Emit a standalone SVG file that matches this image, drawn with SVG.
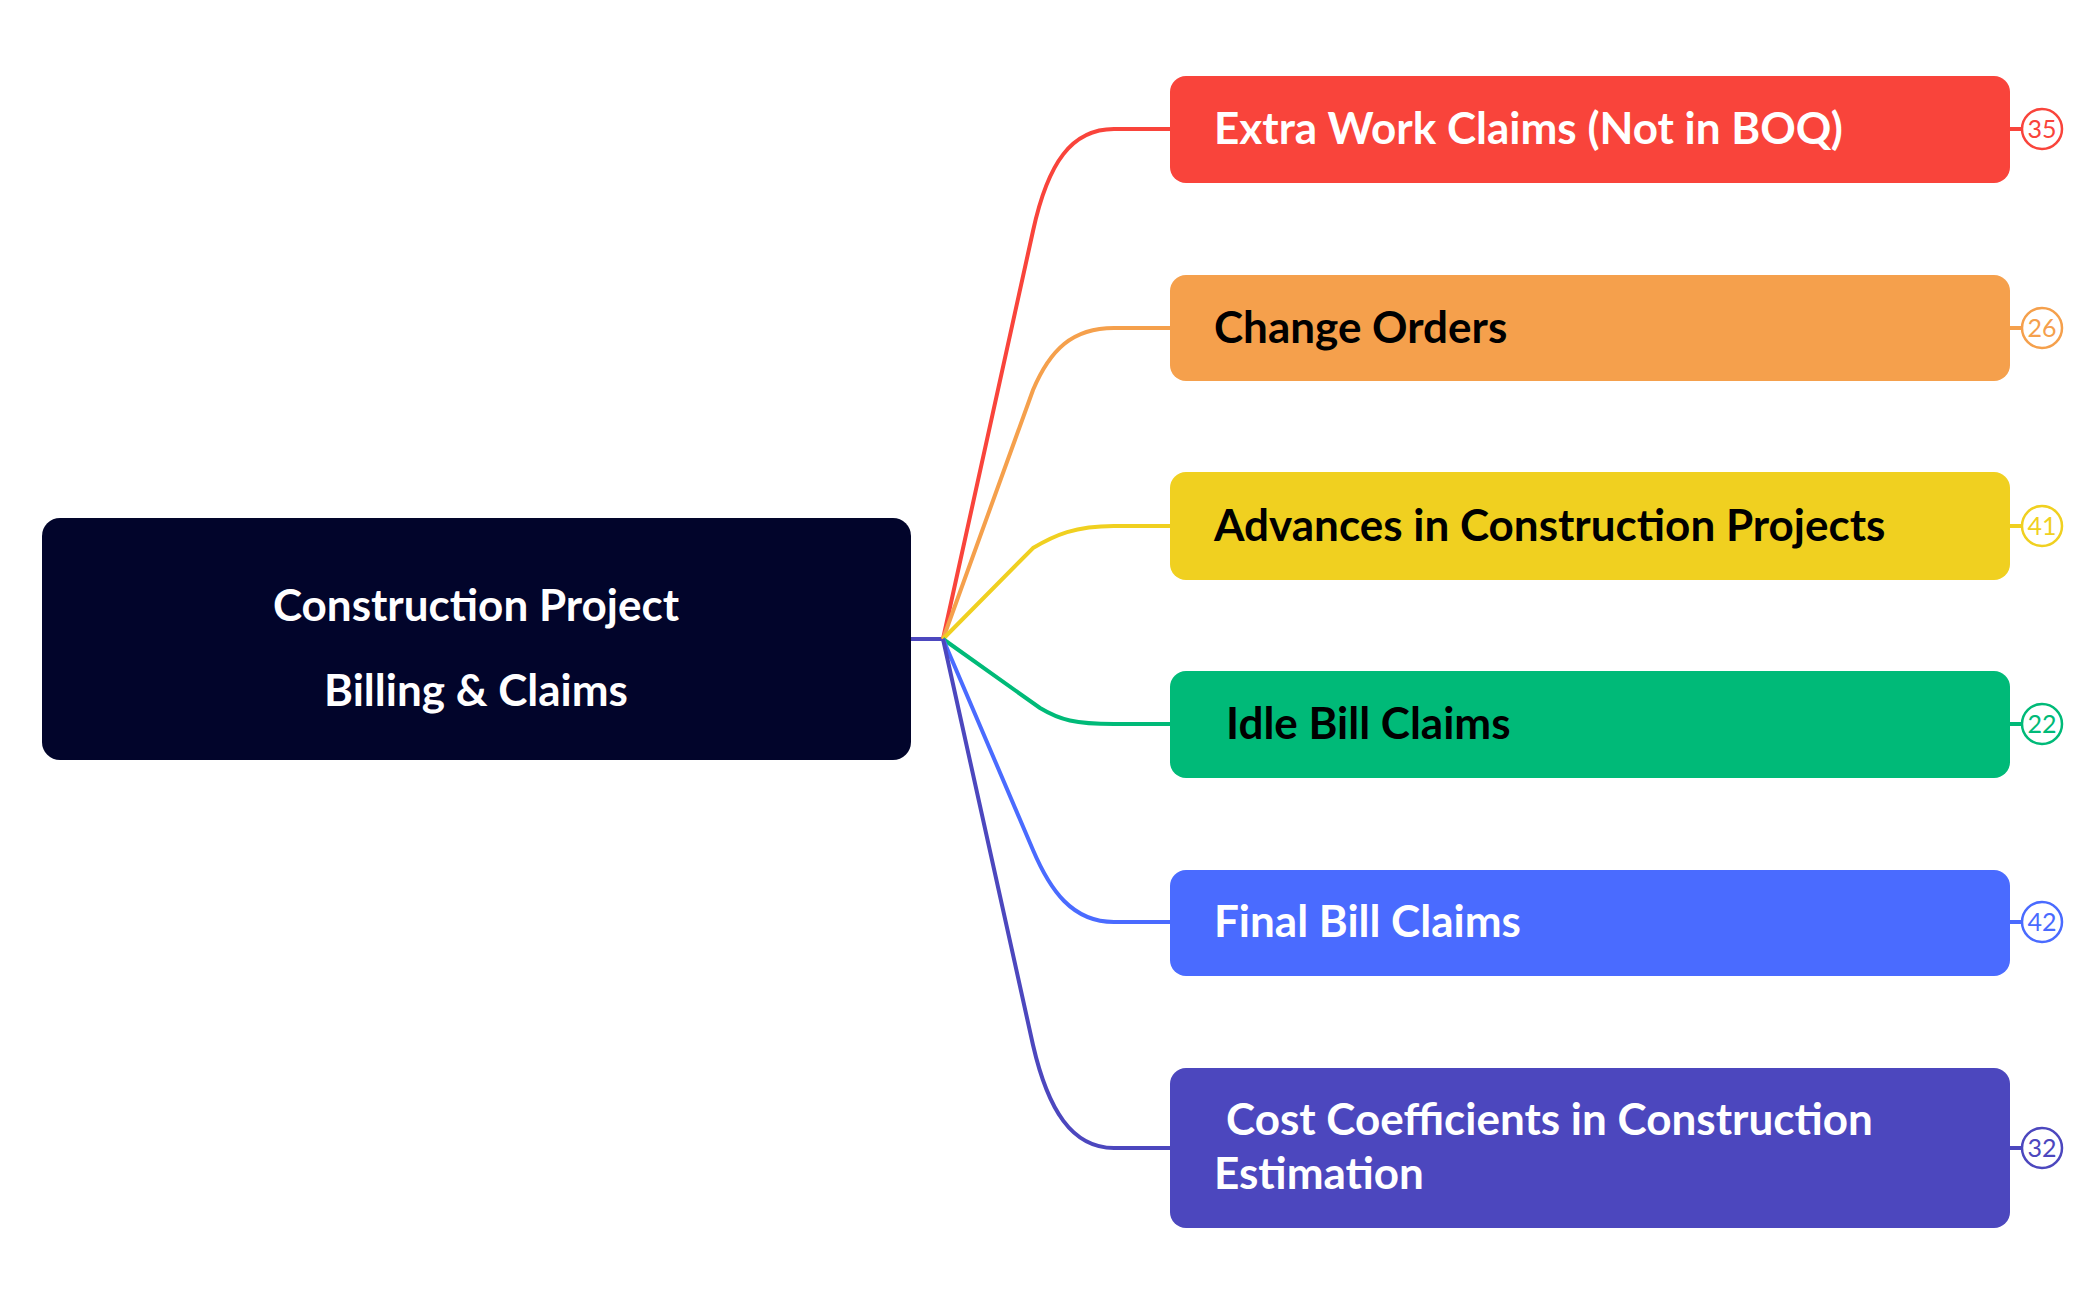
<svg xmlns="http://www.w3.org/2000/svg" width="2094" height="1300" viewBox="0 0 2094 1300">
<style>
.t{font-family:Lato,"Open Sans",sans-serif;font-weight:bold;font-size:44px}
.b{font-family:Lato,"Open Sans",sans-serif;font-size:25px;text-anchor:middle}
.c{fill:none;stroke-width:4}
</style>
<rect width="2094" height="1300" fill="#fff"/>
<g id="connectors">
<path class="c" stroke="#4C47BE" d="M911 639 L943 639"/>
<path class="c" stroke="#F9443B" d="M943 639 L1033 231 C1048 162 1072 129 1114 129 L1170 129"/>
<path class="c" stroke="#F5A04C" d="M943 639 L1033 390 C1050 350 1072 328 1114 328 L1170 328"/>
<path class="c" stroke="#F0D020" d="M943 639 L1033 548 C1055 535 1075 526 1114 526 L1170 526"/>
<path class="c" stroke="#00BA78" d="M943 639 L1040 708 C1060 720 1075 724 1114 724 L1170 724"/>
<path class="c" stroke="#4A6BFF" d="M943 639 L1033 850 C1050 890 1072 922 1114 922 L1170 922"/>
<path class="c" stroke="#4C47BE" d="M943 639 L1033 1045 C1048 1110 1072 1148 1114 1148 L1170 1148"/>
</g>
<g id="root"><rect x="42" y="518" width="869" height="242" rx="18" fill="#02052B"/>
<text class="t" x="476" y="621" fill="#fff" font-size="68" text-anchor="middle">Construction Project</text>
<text class="t" x="476" y="706" fill="#fff" font-size="68" text-anchor="middle">Billing &amp; Claims</text></g>
<g id="n1"><rect x="1170" y="76" width="840" height="107" rx="16" fill="#F9443B"/><text class="t" x="1214" y="144" fill="#fff">Extra Work Claims (Not in BOQ)</text>
<path d="M2010 129 H2022" stroke="#F9443B" stroke-width="4"/><circle cx="2042" cy="129" r="20" fill="#fff" stroke="#F9443B" stroke-width="2.5"/><text class="b" x="2042" y="138" fill="#F9443B">35</text></g>
<g id="n2"><rect x="1170" y="275" width="840" height="106" rx="16" fill="#F5A04C"/><text class="t" x="1214" y="343" fill="#000">Change Orders</text>
<path d="M2010 328 H2022" stroke="#F5A04C" stroke-width="4"/><circle cx="2042" cy="328" r="20" fill="#fff" stroke="#F5A04C" stroke-width="2.5"/><text class="b" x="2042" y="337" fill="#F5A04C">26</text></g>
<g id="n3"><rect x="1170" y="472" width="840" height="108" rx="16" fill="#F0D020"/><text class="t" x="1214" y="541" fill="#000">Advances in Construction Projects</text>
<path d="M2010 526 H2022" stroke="#F0D020" stroke-width="4"/><circle cx="2042" cy="526" r="20" fill="#fff" stroke="#F0D020" stroke-width="2.5"/><text class="b" x="2042" y="535" fill="#F0D020">41</text></g>
<g id="n4"><rect x="1170" y="671" width="840" height="107" rx="16" fill="#00BA78"/><text class="t" x="1226" y="739" fill="#000">Idle Bill Claims</text>
<path d="M2010 724 H2022" stroke="#00BA78" stroke-width="4"/><circle cx="2042" cy="724" r="20" fill="#fff" stroke="#00BA78" stroke-width="2.5"/><text class="b" x="2042" y="733" fill="#00BA78">22</text></g>
<g id="n5"><rect x="1170" y="870" width="840" height="106" rx="16" fill="#4A6BFF"/><text class="t" x="1214" y="937" fill="#fff">Final Bill Claims</text>
<path d="M2010 922 H2022" stroke="#4A6BFF" stroke-width="4"/><circle cx="2042" cy="922" r="20" fill="#fff" stroke="#4A6BFF" stroke-width="2.5"/><text class="b" x="2042" y="931" fill="#4A6BFF">42</text></g>
<g id="n6"><rect x="1170" y="1068" width="840" height="160" rx="16" fill="#4C47BE"/><text class="t" x="1226" y="1135" fill="#fff">Cost Coefficients in Construction</text><text class="t" x="1214" y="1189" fill="#fff">Estimation</text>
<path d="M2010 1148 H2022" stroke="#4C47BE" stroke-width="4"/><circle cx="2042" cy="1148" r="20" fill="#fff" stroke="#4C47BE" stroke-width="2.5"/><text class="b" x="2042" y="1157" fill="#4C47BE">32</text></g>
</svg>
